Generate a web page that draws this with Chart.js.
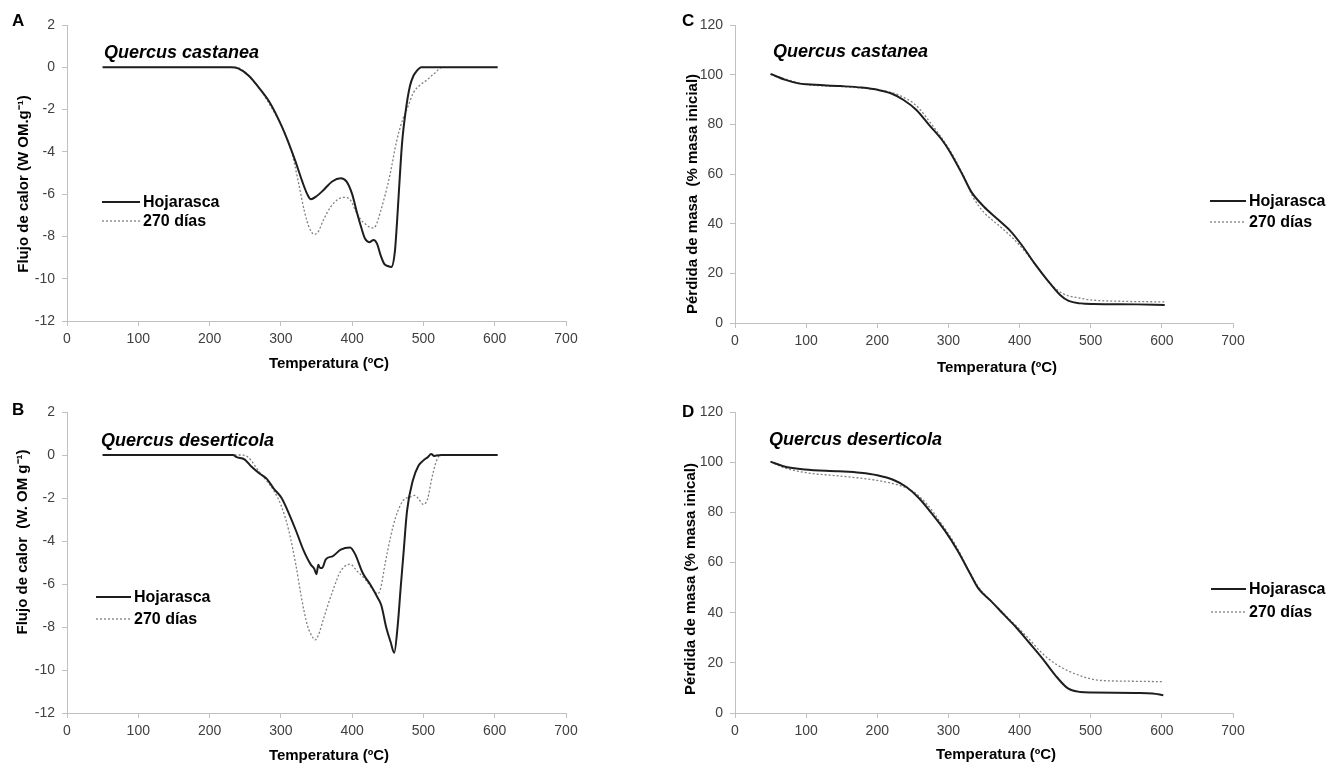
<!DOCTYPE html>
<html><head><meta charset="utf-8">
<script src="https://cdn.jsdelivr.net/npm/chart.js@4/dist/chart.umd.min.js"></script>
<style>
html,body{margin:0;padding:0;background:#fff;}
body{width:1335px;height:769px;overflow:hidden;position:relative;}
.p{position:absolute;}
canvas{display:block;}
</style></head><body>
<div class="p" style="left:0;top:0;width:640px;height:385px"><canvas id="cA" width="640" height="385"></canvas></div>
<div class="p" style="left:670px;top:0;width:665px;height:385px"><canvas id="cC" width="665" height="385"></canvas></div>
<div class="p" style="left:0;top:385px;width:640px;height:384px"><canvas id="cB" width="640" height="384"></canvas></div>
<div class="p" style="left:670px;top:385px;width:665px;height:384px"><canvas id="cD" width="665" height="384"></canvas></div>
<script>
// ---- Data ----
const seriesNames = ['Hojarasca', '270 días'];
const xTicks = [0,100,200,300,400,500,600,700];
const flowTicks = [-12,-10,-8,-6,-4,-2,0,2];
const massTicks = [0,20,40,60,80,100,120];

// Panel A: Quercus castanea, heat flow
const tempA_hoj = [50,230,240,255,270,285,300,310,320,330,337,342,350,360,372,384,392,400,407,413,418,424,430,435,440,445,450,455,460,463,467,470,475,481,486,490,497,550,604];
const fluxA_hoj = [0,0,-0.05,-0.4,-1.0,-1.7,-2.7,-3.5,-4.4,-5.4,-6.0,-6.24,-6.1,-5.8,-5.4,-5.25,-5.4,-6.0,-6.9,-7.6,-8.1,-8.27,-8.17,-8.35,-8.9,-9.3,-9.4,-9.45,-8.7,-7.3,-5.1,-3.6,-2.1,-0.9,-0.4,-0.2,0,0,0];
const tempA_270 = [50,235,245,260,270,285,300,315,325,333,340,347,352,360,370,380,390,398,405,412,420,428,433,440,453,462,471,475,480,486,495,505,515,527,560,604];
const fluxA_270 = [0,0,-0.1,-0.6,-1.0,-1.8,-2.7,-4.0,-5.5,-6.8,-7.6,-7.9,-7.8,-7.2,-6.6,-6.25,-6.15,-6.3,-6.8,-7.2,-7.45,-7.6,-7.5,-6.8,-5.1,-3.55,-2.46,-2.15,-1.7,-1.2,-0.85,-0.6,-0.3,0,0,0];

// Panel B: Quercus deserticola, heat flow
const tempB_hoj = [50,233,238,249,259,270,280,290,301,311,321,332,342,347,350,352.5,355,358,363,373,384,397,404,415,425,436,441,448,454,459,464,468,472,477,485,493,500,506,511,515,518,526,560,604];
const fluxB_hoj = [0,0,-0.1,-0.2,-0.55,-0.86,-1.1,-1.56,-2.0,-2.7,-3.5,-4.45,-5.1,-5.3,-5.55,-5.1,-5.25,-5.25,-4.85,-4.7,-4.4,-4.3,-4.6,-5.5,-6.0,-6.65,-7.0,-8.05,-8.7,-9.2,-7.9,-6.2,-4.6,-2.6,-1.2,-0.5,-0.25,-0.1,0.05,-0.05,-0.02,0,0,0];
const tempB_270 = [50,245,254,270,280,290,301,311,321,329,337,345,348,353,360,373,384,397,407,420,430,436,440,446,454,461,472,482,488,493,500,506,511,518,524,560,604];
const fluxB_270 = [0,0,-0.1,-0.8,-1.2,-1.65,-2.4,-3.5,-5.1,-6.65,-7.9,-8.5,-8.6,-8.35,-7.6,-6.3,-5.4,-5.08,-5.4,-5.85,-6.3,-6.45,-6.2,-5.1,-3.8,-2.9,-2.1,-1.95,-1.88,-2.03,-2.3,-2.03,-1.2,-0.3,0,0,0];

// Panel C: Quercus castanea, mass loss
const tempC_hoj = [50,71,89,101,148,178,202,219,237,255,273,291,302,320,332,350,368,386,403,421,439,457,469,486,504,564,604];
const massC_hoj = [100.3,97.9,96.5,96.1,95.4,94.8,93.8,92.5,89.8,85.8,79.7,73.7,69.0,59.6,52.9,46.8,42.1,37.4,31.4,24.0,17.3,11.3,8.9,7.9,7.65,7.5,7.25];
const tempC_270 = [50,100,150,200,230,255,275,300,320,335,350,370,390,410,430,450,465,480,500,550,604];
const massC_270 = [100,96.1,95.2,93.9,91.8,87.5,80.5,70.5,60,50.5,44.5,39.5,34.3,28,20.5,14,11.3,10.3,9.3,8.7,8.5];

// Panel D: Quercus deserticola, mass loss
const tempD_hoj = [50,68,98,146,176,200,223,241,259,277,295,313,331,342,360,378,396,414,432,450,468,485,503,563,587,602];
const massD_hoj = [100.2,98.4,97.1,96.4,95.8,94.8,92.9,90.1,85.5,79.4,72.7,64.7,55.3,49.7,44.6,39.2,33.9,27.9,21.8,15.1,9.8,8.4,8.2,8.0,7.8,7.1];
const tempD_270 = [50,70,100,150,200,230,250,270,290,310,330,342,360,380,400,415,430,450,470,490,510,550,602];
const massD_270 = [100.2,97.7,95.8,94.4,92.7,90.8,88.4,83.2,75.5,67,56,50.3,44.6,39,33.4,29,24.3,19.7,16.6,14.4,13.1,12.7,12.5];

// ---- Rendering ----
const FONT = '"Liberation Sans", Arial, sans-serif';
const toXY = (xs, ys) => xs.map((x, i) => ({x: x, y: ys[i]}));

const annot = {
  id: 'annot',
  afterDraw(chart, args, o) {
    const ctx = chart.ctx;
    ctx.save();
    ctx.fillStyle = '#000';
    ctx.textBaseline = 'middle';
    ctx.textAlign = 'left';
    ctx.font = 'bold 17px ' + FONT;
    ctx.fillText(o.letter, o.lx, o.ly);
    ctx.font = 'italic bold 18px ' + FONT;
    ctx.fillText(o.species, o.sx, o.sy);
    // axis titles
    ctx.font = 'bold 15px ' + FONT;
    ctx.textAlign = 'center';
    ctx.fillText('Temperatura (ºC)', o.xtx, o.xty);
    ctx.save();
    ctx.translate(o.ytx, o.yty);
    ctx.rotate(-Math.PI / 2);
    ctx.fillText(o.yTitle, 0, 0);
    ctx.restore();
    // legend
    ctx.textAlign = 'left';
    chart.data.datasets.forEach((ds, i) => {
      const y = o.legY[i];
      ctx.strokeStyle = ds.borderColor;
      ctx.lineWidth = ds.borderWidth;
      ctx.setLineDash(ds.borderDash || []);
      ctx.beginPath();
      ctx.moveTo(o.legX0, y);
      ctx.lineTo(o.legX1, y);
      ctx.stroke();
      ctx.setLineDash([]);
      ctx.fillStyle = '#000';
      ctx.font = 'bold 16px ' + FONT;
      ctx.fillText(ds.label, o.legX1 + 3, y + 1);
    });
    ctx.restore();
  }
};

function makeChart(id, d) {
  const tickFont = {family: FONT, size: 14};
  return new Chart(document.getElementById(id), {
    type: 'line',
    data: {
      datasets: [
        {label: seriesNames[0], data: toXY(d.x1, d.y1), borderColor: '#1e1e1e', borderWidth: 2,
         pointRadius: 0, fill: false, cubicInterpolationMode: 'monotone'},
        {label: seriesNames[1], data: toXY(d.x2, d.y2), borderColor: '#808080', borderWidth: 1.3,
         borderDash: [2, 2], pointRadius: 0, fill: false, cubicInterpolationMode: 'monotone'}
      ]
    },
    options: {
      responsive: false,
      animation: false,
      devicePixelRatio: 1,
      layout: {padding: {left: 0, top: d.padTop, right: d.padRight, bottom: 0}},
      plugins: {legend: {display: false}, tooltip: {enabled: false}, annot: d.annot},
      scales: {
        x: {
          type: 'linear', min: 0, max: 700,
          afterBuildTicks: s => { s.ticks = xTicks.map(v => ({value: v})); },
          ticks: {font: tickFont, color: '#404040', padding: 5, maxRotation: 0},
          grid: {display: true, drawOnChartArea: false, drawTicks: true, tickLength: 5, color: '#c0c0c0'},
          border: {display: true, color: '#c0c0c0'},
          title: {display: false},
          afterFit: s => { s.height = d.xH; }
        },
        y: {
          min: d.ymin, max: d.ymax,
          afterBuildTicks: s => { s.ticks = d.yTicks.map(v => ({value: v})); },
          ticks: {font: tickFont, color: '#404040', padding: 7},
          grid: {display: true, drawOnChartArea: false, drawTicks: true, tickLength: 5, color: '#c0c0c0'},
          border: {display: true, color: '#c0c0c0'},
          title: {display: false},
          afterFit: s => { s.width = d.yW; }
        }
      }
    },
    plugins: [annot]
  });
}

makeChart('cA', {
  x1: tempA_hoj, y1: fluxA_hoj, x2: tempA_270, y2: fluxA_270,
  ymin: -12, ymax: 2, yTicks: flowTicks,
  padTop: 25, padRight: 74, xH: 64, yW: 67,
  annot: {letter: 'A', lx: 12, ly: 21, species: 'Quercus castanea', sx: 104, sy: 53,
          xtx: 329, xty: 364, ytx: 24, yty: 184, yTitle: 'Flujo de calor (W OM.g⁻¹)',
          legX0: 102, legX1: 140, legY: [202, 221]}
});
makeChart('cB', {
  x1: tempB_hoj, y1: fluxB_hoj, x2: tempB_270, y2: fluxB_270,
  ymin: -12, ymax: 2, yTicks: flowTicks,
  padTop: 27, padRight: 74, xH: 56, yW: 67,
  annot: {letter: 'B', lx: 12, ly: 25, species: 'Quercus deserticola', sx: 101, sy: 56,
          xtx: 329, xty: 371, ytx: 23, yty: 157, yTitle: 'Flujo de calor  (W. OM g⁻¹)',
          legX0: 96, legX1: 131, legY: [212, 234]}
});
makeChart('cC', {
  x1: tempC_hoj, y1: massC_hoj, x2: tempC_270, y2: massC_270,
  ymin: 0, ymax: 120, yTicks: massTicks,
  padTop: 25, padRight: 102, xH: 62, yW: 65,
  annot: {letter: 'C', lx: 12, ly: 21, species: 'Quercus castanea', sx: 103, sy: 52,
          xtx: 327, xty: 368, ytx: 23, yty: 194, yTitle: 'Pérdida de masa  (% masa inicial)',
          legX0: 540, legX1: 576, legY: [201, 222]}
});
makeChart('cD', {
  x1: tempD_hoj, y1: massD_hoj, x2: tempD_270, y2: massD_270,
  ymin: 0, ymax: 120, yTicks: massTicks,
  padTop: 27, padRight: 102, xH: 56, yW: 65,
  annot: {letter: 'D', lx: 12, ly: 27, species: 'Quercus deserticola', sx: 99, sy: 55,
          xtx: 326, xty: 370, ytx: 21, yty: 194, yTitle: 'Pérdida de masa (% masa inical)',
          legX0: 541, legX1: 576, legY: [204, 227]}
});
</script>
</body></html>
